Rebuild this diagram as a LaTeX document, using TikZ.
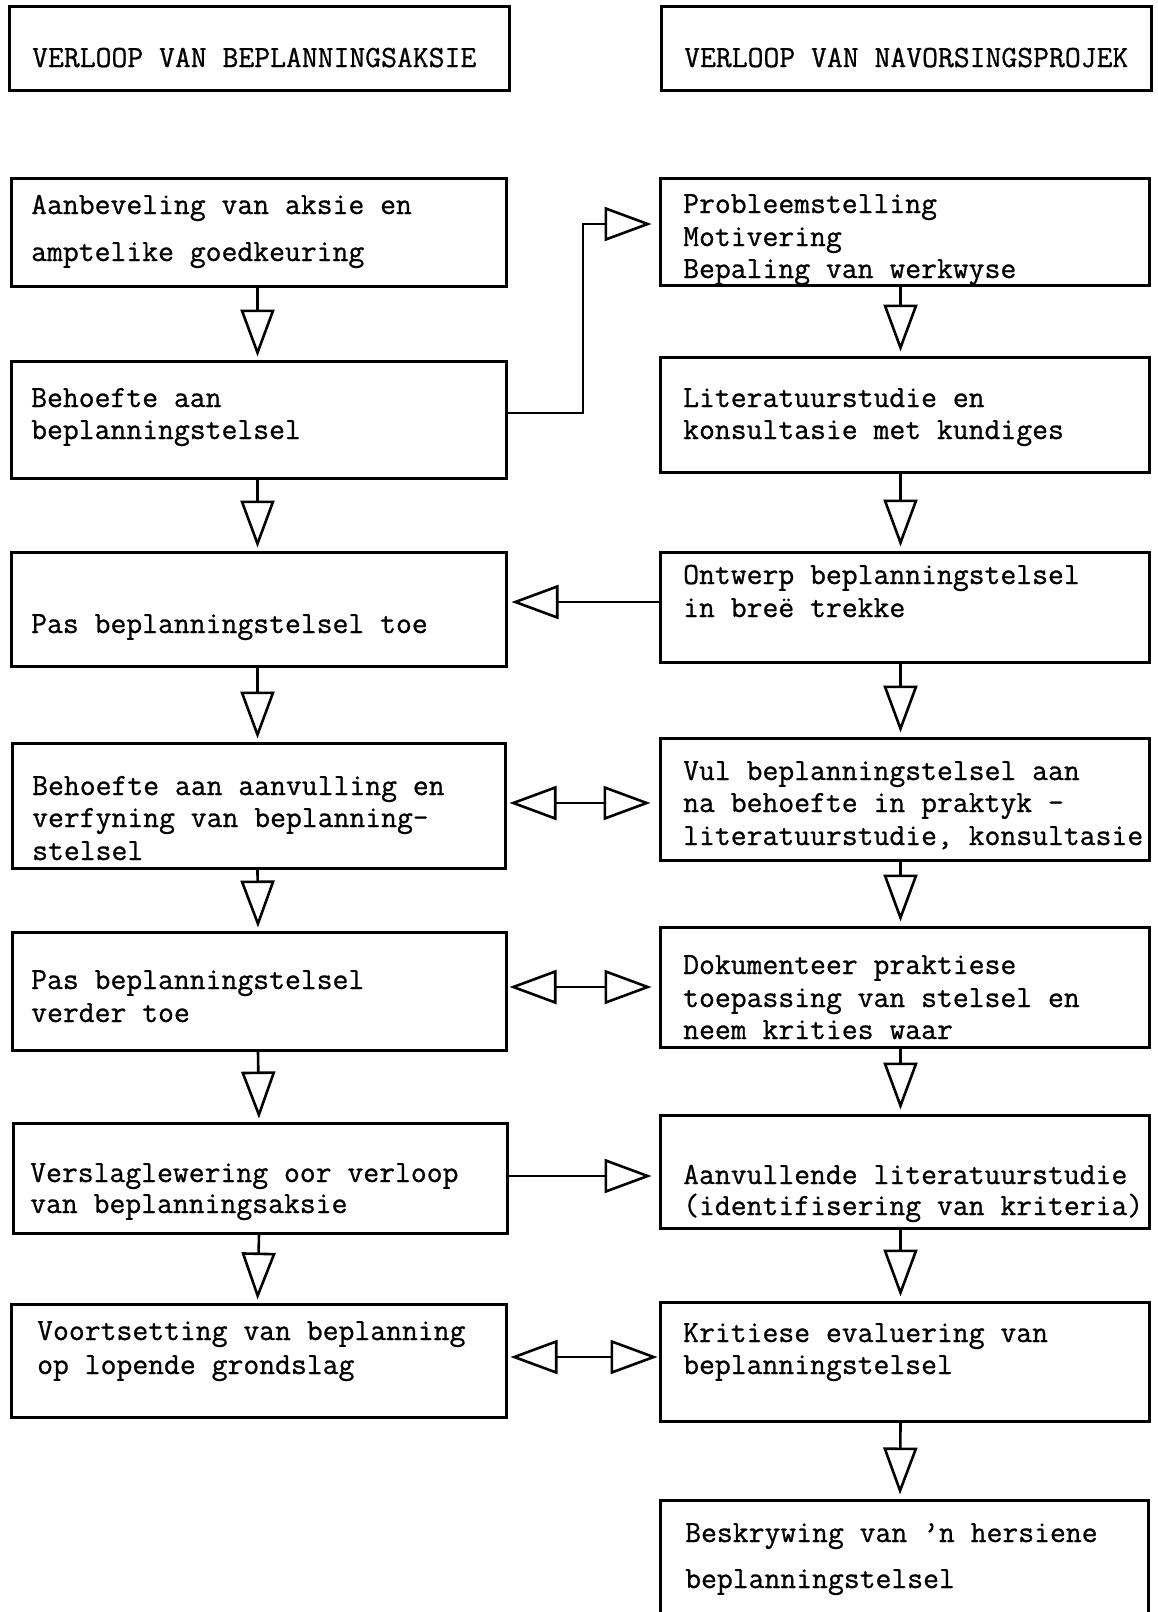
\documentclass[tikz,border=0pt]{standalone}
\usepackage{fontspec}
\setmonofont{Latin Modern Mono}[FakeBold=0.8]
\usetikzlibrary{arrows.meta,fit}

% framed box spanning two corner points
\newcommand\mkbox[5]{\node[box, fit={(#2,#3) (#4,#5)}] (#1) {};}

\begin{document}
\begin{tikzpicture}[x=1pt,y=-1pt,
  box/.style={draw, line width=3pt, rectangle, inner sep=0pt},
  txt/.style={anchor=base west, inner sep=0pt, font=\ttfamily\fontsize{30.8}{32}\selectfont},
  conn/.style={line width=2.6pt},
  hd/.style={-{Triangle[open,length=47pt,width=34pt]}},
  dbl/.style={{Triangle[open,length=47pt,width=34pt]}-{Triangle[open,length=47pt,width=34pt]}},
]
\path[use as bounding box] (0,0) rectangle (1157,1612);
\clip (0,0) rectangle (1157,1612);
\fill[white] (0,0) rectangle (1157,1612);

% column headings
\mkbox{h1}{9}{6}{509}{90}
\mkbox{h2}{661}{6}{1151}{90}
\node[txt] (h1t) at (32,67) {VERLOOP VAN BEPLANNINGSAKSIE};
\node[txt] (h2t) at (684,67) {VERLOOP VAN NAVORSINGSPROJEK};

% left column: planning action
\mkbox{b1}{11}{178}{506}{286}
\mkbox{b2}{11}{361}{506}{478}
\mkbox{b3}{11}{552}{506}{666}
\mkbox{b4}{12}{743}{505}{868}
\mkbox{b5}{12}{932}{506}{1050}
\mkbox{b6}{13}{1123}{507}{1233}
\mkbox{b7}{11}{1304}{506}{1417}

\node[txt] (b1a) at (31,214) {Aanbeveling van aksie en};
\node[txt] (b1b) at (31,261) {amptelike goedkeuring};
\node[txt] (b2a) at (31,407) {Behoefte aan};
\node[txt] (b2b) at (31,439) {beplanningstelsel};
\node[txt] (b3a) at (31,633) {Pas beplanningstelsel toe};
\node[txt] (b4a) at (32,795) {Behoefte aan aanvulling en};
\node[txt] (b4b) at (32,827) {verfyning van beplanning-};
\node[txt] (b4c) at (32,860) {stelsel};
\node[txt] (b5a) at (31,989) {Pas beplanningstelsel};
\node[txt] (b5b) at (31,1022) {verder toe};
\node[txt] (b6a) at (30,1182) {Verslaglewering oor verloop};
\node[txt] (b6b) at (30,1213) {van beplanningsaksie};
\node[txt] (b7a) at (37,1340) {Voortsetting van beplanning};
\node[txt] (b7b) at (37,1374) {op lopende grondslag};

% right column: research project
\mkbox{r1}{660}{178}{1149}{285}
\mkbox{r2}{660}{357}{1149}{472}
\mkbox{r3}{660}{552}{1149}{662}
\mkbox{r4}{660}{738}{1149}{860}
\mkbox{r5}{660}{927}{1149}{1047}
\mkbox{r6}{660}{1115}{1149}{1228}
\mkbox{r7}{660}{1302}{1149}{1421}
\mkbox{r8}{660}{1500}{1148}{1640}

\node[txt] (r1a) at (683,213) {Probleemstelling};
\node[txt] (r1b) at (683,246) {Motivering};
\node[txt] (r1c) at (683,278) {Bepaling van werkwyse};
\node[txt] (r2a) at (683,407) {Literatuurstudie en};
\node[txt] (r2b) at (683,439) {konsultasie met kundiges};
\node[txt] (r3a) at (683,584) {Ontwerp beplanningstelsel};
\node[txt] (r3b) at (683,617) {in breë trekke};
\node[txt] (r4a) at (683,780) {Vul beplanningstelsel aan};
\node[txt] (r4b) at (683,812) {na behoefte in praktyk -};
\node[txt] (r4c) at (683,845) {literatuurstudie, konsultasie};
\node[txt] (r5a) at (683,974) {Dokumenteer praktiese};
\node[txt] (r5b) at (683,1007) {toepassing van stelsel en};
\node[txt] (r5c) at (683,1039) {neem krities waar};
\node[txt] (r6a) at (683,1184) {Aanvullende literatuurstudie};
\node[txt] (r6b) at (683,1215) {(identifisering van kriteria)};
\node[txt] (r7a) at (683,1342) {Kritiese evaluering van};
\node[txt] (r7b) at (683,1374) {beplanningstelsel};
\node[txt] (r8a) at (685,1542) {Beskrywing van ’n hersiene};
\node[txt] (r8b) at (685,1588) {beplanningstelsel};

% downward flow in each column
\foreach \a/\b in {b1/b2,b2/b3,b3/b4,b4/b5,b5/b6,b6/b7}
  \draw[conn,hd,shorten >=3pt] ([xshift=-1pt]\a.south) -- ([xshift=-1pt]\b.north);
\foreach \a/\b in {r1/r2,r2/r3,r3/r4,r4/r5,r5/r6,r6/r7,r7/r8}
  \draw[conn,hd,shorten >=4pt] ([xshift=-4pt]\a.south) -- ([xshift=-4pt]\b.north);

% links between the columns
\coordinate (k1) at (583,413);
\coordinate (k2) at (583,224);
\draw[conn,hd,shorten >=7pt] (b2.east |- k1) -- (k1) |- (r1.west |- k2);

\coordinate (h3) at (0,602);
\draw[conn,hd,shorten >=4pt] (r3.west |- h3) -- (b3.east |- h3);

\coordinate (h4) at (0,803);
\draw[conn,dbl,shorten <=3pt,shorten >=8pt] (b4.east |- h4) -- (r4.west |- h4);

\coordinate (h5) at (0,987);
\draw[conn,dbl,shorten <=2pt,shorten >=7pt] (b5.east |- h5) -- (r5.west |- h5);

\coordinate (h6) at (0,1176);
\draw[conn,hd,shorten >=7pt] (b6.east |- h6) -- (r6.west |- h6);

\coordinate (h7) at (0,1357);
\draw[conn,dbl,shorten <=3pt,shorten >=1pt] (b7.east |- h7) -- (r7.west |- h7);
\end{tikzpicture}
\end{document}
